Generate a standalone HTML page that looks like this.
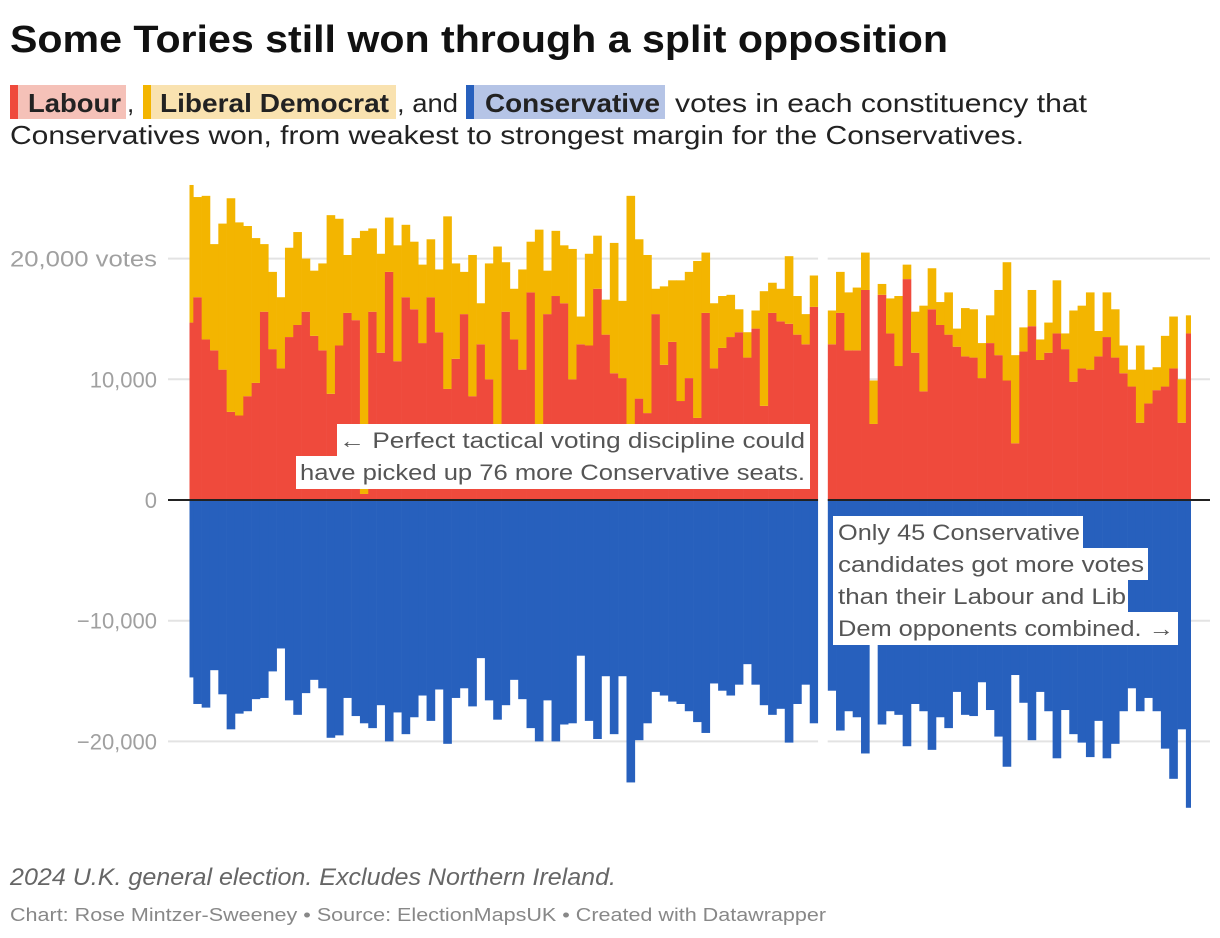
<!DOCTYPE html>
<html><head><meta charset="utf-8">
<style>
body{margin:0;background:#fff;}
svg{display:block;font-family:"Liberation Sans",sans-serif;}
</style></head>
<body>
<svg id="chart" width="1220" height="938" viewBox="0 0 1220 938" xmlns="http://www.w3.org/2000/svg">
<text x="10" y="52" font-size="38" font-weight="bold" fill="#111" textLength="938" lengthAdjust="spacingAndGlyphs">Some Tories still won through a split opposition</text>
<g font-size="26" fill="#222">
  <rect x="10" y="85" width="8" height="34" fill="#ef4a3c"/><rect x="18" y="85" width="108" height="34" fill="#f5c1b8"/>
  <text x="28" y="112" font-weight="bold" textLength="93" lengthAdjust="spacingAndGlyphs">Labour</text>
  <text x="127" y="112">,</text>
  <rect x="143" y="85" width="8" height="34" fill="#f3b500"/><rect x="151" y="85" width="245" height="34" fill="#f9e2b0"/>
  <text x="160" y="112" font-weight="bold" textLength="229" lengthAdjust="spacingAndGlyphs">Liberal Democrat</text>
  <text x="397" y="112" textLength="61" lengthAdjust="spacingAndGlyphs">, and</text>
  <rect x="466" y="85" width="8" height="34" fill="#2760bd"/><rect x="474" y="85" width="191" height="34" fill="#b5c4e6"/>
  <text x="485" y="112" font-weight="bold" textLength="175" lengthAdjust="spacingAndGlyphs">Conservative</text>
  <text x="675" y="112" textLength="412" lengthAdjust="spacingAndGlyphs">votes in each constituency that</text>
  <text x="10" y="144" textLength="1014" lengthAdjust="spacingAndGlyphs">Conservatives won, from weakest to strongest margin for the Conservatives.</text>
</g>
<g id="grid"></g>
<g id="bars"></g>
<g id="axis"></g>
<g font-size="22" fill="#555">
  <rect x="337" y="424" width="473" height="33" fill="#fff"/>
  <rect x="296" y="456" width="514" height="33" fill="#fff"/>
  <text x="805" y="448" text-anchor="end" textLength="466" lengthAdjust="spacingAndGlyphs">← Perfect tactical voting discipline could</text>
  <text x="805" y="480" text-anchor="end" textLength="505" lengthAdjust="spacingAndGlyphs">have picked up 76 more Conservative seats.</text>
</g>
<g font-size="22" fill="#555">
  <rect x="833" y="516" width="250" height="32" fill="#fff"/>
  <rect x="833" y="548" width="315" height="32" fill="#fff"/>
  <rect x="833" y="580" width="295" height="32" fill="#fff"/>
  <rect x="833" y="612" width="345" height="33" fill="#fff"/>
  <text x="838" y="540" textLength="242" lengthAdjust="spacingAndGlyphs">Only 45 Conservative</text>
  <text x="838" y="572" textLength="306" lengthAdjust="spacingAndGlyphs">candidates got more votes</text>
  <text x="838" y="604" textLength="288" lengthAdjust="spacingAndGlyphs">than their Labour and Lib</text>
  <text x="838" y="636" textLength="336" lengthAdjust="spacingAndGlyphs">Dem opponents combined. →</text>
</g>
<text x="10" y="885" font-size="24" font-style="italic" fill="#666" textLength="606" lengthAdjust="spacingAndGlyphs">2024 U.K. general election. Excludes Northern Ireland.</text>
<text x="10" y="921" font-size="18" fill="#888" textLength="816" lengthAdjust="spacingAndGlyphs">Chart: Rose Mintzer-Sweeney • Source: ElectionMapsUK • Created with Datawrapper</text>
</svg>
<script>
// values in thousands of votes
const labLeft=[14.7,16.8,13.3,12.4,10.8,7.3,7.0,8.6,9.7,15.6,12.5,10.9,13.5,14.5,15.6,13.6,12.4,8.8,12.8,15.5,14.9,0.5,15.6,12.2,18.9,11.5,16.8,15.8,13.0,16.8,13.9,9.2,11.7,15.4,8.6,12.9,10.0,4.0,15.6,13.3,10.8,17.2,4.0,15.4,16.9,16.3,10.0,12.9,12.8,17.5,13.7,10.5,10.1,2.5,8.4,7.2,15.4,11.2,13.1,8.2,10.1,6.8,15.5,10.9,12.6,13.5,13.9,11.8,14.2,7.8,15.5,14.8,14.6,13.7,12.9,16.0];
const ldLeft=[11.4,8.3,11.9,8.8,12.1,17.7,16.0,14.1,12.0,5.6,6.4,5.9,7.4,7.7,4.4,5.4,7.2,14.8,10.5,4.8,6.8,21.8,6.9,8.2,4.5,9.6,6.0,5.6,6.5,4.8,5.2,14.3,7.9,3.5,11.7,3.4,9.6,17.0,4.1,4.2,8.3,4.2,18.4,3.6,5.4,4.8,10.8,2.3,7.6,4.4,2.9,10.8,6.4,22.7,13.2,13.1,2.1,6.5,5.1,10.0,8.8,13.0,5.0,5.4,4.3,3.5,1.9,2.1,1.5,9.5,2.5,2.7,5.6,3.2,2.5,2.6];
const conLeft=[14.7,16.9,17.2,14.1,16.1,19.0,17.7,17.5,16.5,16.4,14.2,12.3,16.6,17.8,16.0,14.9,15.6,19.7,19.5,16.4,17.9,18.5,18.9,17.0,20.0,17.6,19.4,18.0,16.2,18.3,15.7,20.2,16.4,15.6,17.1,13.1,16.6,18.2,17.0,14.9,16.5,18.9,20.0,16.6,20.0,18.6,18.5,12.9,18.3,19.8,14.6,19.4,14.6,23.4,19.9,18.5,15.9,16.2,16.7,16.9,17.5,18.4,19.3,15.2,15.8,16.2,15.3,13.6,15.3,17.0,17.8,17.3,20.1,16.9,15.3,18.5];
const labRight=[12.9,15.5,12.4,12.4,17.4,6.3,17.0,13.8,11.1,18.3,12.2,9.0,15.8,14.5,13.7,12.7,11.9,11.8,10.1,13.0,12.0,9.9,4.7,12.3,14.4,11.6,12.2,13.8,12.5,9.8,10.9,10.8,11.9,13.5,11.8,10.5,9.4,6.4,8.0,9.1,9.4,10.9,6.4,13.8];
const ldRight=[2.8,3.4,4.8,5.2,3.1,3.6,0.9,2.9,5.8,1.2,3.4,7.1,3.4,1.9,3.5,1.5,4.0,4.0,2.9,2.3,5.4,9.8,7.3,2.0,3.0,1.7,2.5,4.4,1.3,5.9,5.2,6.4,2.1,3.7,4.0,2.3,1.4,6.4,2.8,1.9,4.2,4.3,3.6,1.5];
const conRight=[15.8,19.1,17.5,18.0,21.0,11.5,18.6,17.5,17.8,20.4,16.9,17.5,20.7,18.0,18.9,15.9,17.8,17.9,15.1,17.4,19.6,22.1,14.5,16.8,19.9,15.9,17.5,21.4,17.4,19.4,20.1,21.3,18.3,21.4,20.2,17.5,15.6,17.5,16.4,17.5,20.6,23.1,19.0,25.5];
const tickValues=[20,10,0,-10,-20];
const tickLabels=["20,000 votes","10,000","0","−10,000","−20,000"];

const NS="http://www.w3.org/2000/svg";
const STEP=8.33, LEFT0=185, RIGHT0=827.7, CLIPL=189.5, CLIPR=1190.7;
function y(v){return 500-v*12.07;}
function xLeft(i){return LEFT0+i*STEP;}
function xRight(j){return RIGHT0+j*STEP;}
function mk(tag,attrs,parent){const e=document.createElementNS(NS,tag);for(const k in attrs)e.setAttribute(k,attrs[k]);parent.appendChild(e);return e;}

const grid=document.getElementById('grid');
const axis=document.getElementById('axis');
tickValues.forEach((t,i)=>{
  if(t!==0){
    const l=mk('line',{x1:168,x2:1210,y1:y(t),y2:y(t),stroke:'#e3e3e3','stroke-width':2},grid);
    
    
  }
  const tx=mk('text',{x:157,y:y(t)+8,'text-anchor':'end','font-size':22,fill:'#a0a0a0'},axis);
  if(i===0){tx.setAttribute('textLength',147);tx.setAttribute('lengthAdjust','spacingAndGlyphs');}
  
  
  tx.textContent=tickLabels[i];
});

const bars=document.getElementById('bars');
function bar(x,v0,v1,color,name){
  let x0=Math.max(x,CLIPL), x1=Math.min(x+STEP,CLIPR);
  if(x1<=x0) return;
  const r=mk('rect',{x:x0,y:Math.min(y(v0),y(v1)),width:x1-x0+0.3,height:Math.abs(y(v1)-y(v0)),fill:color},bars);
  
  
}
function group(lab,ld,con,xf){
  for(let i=0;i<lab.length;i++){
    const x=xf(i);
    bar(x,0,lab[i],'#ef4a3c','bar-labour');
    bar(x,lab[i],lab[i]+ld[i],'#f3b500','bar-lib-dem');
    bar(x,0,-con[i],'#2760bd','bar-conservative');
  }
}
group(labLeft,ldLeft,conLeft,xLeft);
group(labRight,ldRight,conRight,xRight);
const zl=mk('line',{x1:168,x2:1210,y1:y(0),y2:y(0),stroke:'#222','stroke-width':2},bars);


const gap=mk('rect',{x:xLeft(labLeft.length),y:175,width:RIGHT0-xLeft(labLeft.length),height:650,fill:'#fff'},bars);


</script>
</body></html>
